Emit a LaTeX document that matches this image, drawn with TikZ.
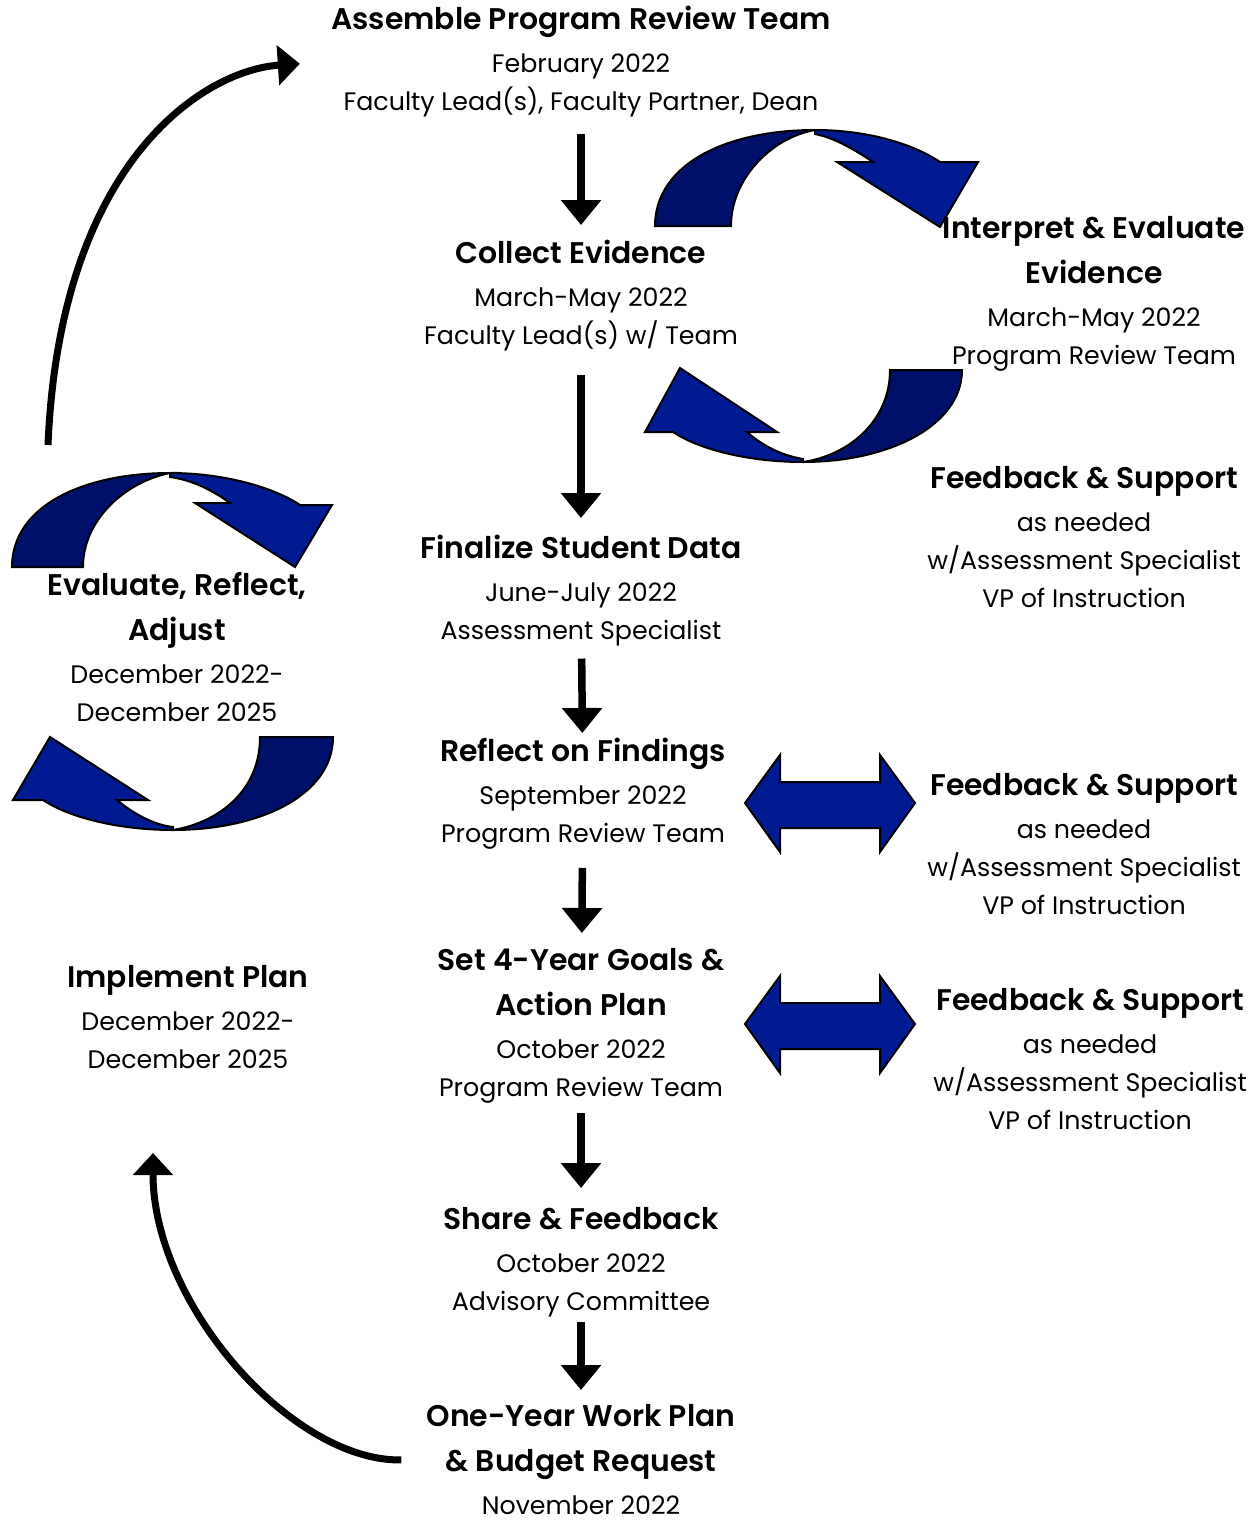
\documentclass[tikz,border=0pt]{standalone}
\usepackage{fontspec}
\setmainfont{Poppins}[BoldFont={Poppins SemiBold}]
\usetikzlibrary{arrows.meta}
\definecolor{navydark}{RGB}{0,15,105}
\definecolor{navylight}{RGB}{0,27,145}
\newcommand{\hd}[1]{{\fontsize{17pt}{21.5pt}\selectfont\bfseries #1}}

\begin{document}
\begin{tikzpicture}[
        x=0.02cm, y=-0.02cm,
        stepnode/.style={align=center, anchor=north, inner sep=0pt, font=\fontsize{14.4pt}{21.5pt}\selectfont},
        arrow/.style={line width=0.15cm, -{Triangle[width=0.78cm, length=0.5cm]}},
        curvearrow/.style={line width=0.14cm, -{Triangle[width=0.78cm, length=0.44cm]}},
        shapeback/.style={draw=black, line width=0.04cm, fill=navydark},
        shapefront/.style={draw=black, line width=0.04cm, fill=navylight},
    ]
        \useasboundingbox (0,0) rectangle (1258,1521);

        % blue circular arrows, right side
        \draw[shapeback] (655,226) .. controls (655,165) and (725,130) .. (815,130)
            .. controls (770,138) and (731,180) .. (731,226) -- cycle;
        \draw[shapefront] (815,130) .. controls (870,130) and (915,145) .. (940,162)
            -- (978,162) -- (940,227) -- (837,162) -- (873,162)
            .. controls (855,150) and (835,138) .. (815,134) -- cycle;
        \draw[shapeback] (962,370) .. controls (962,425) and (890,462) .. (803,462)
            .. controls (850,455) and (890,420) .. (890,370) -- cycle;
        \draw[shapefront] (803,462) .. controls (750,462) and (700,450) .. (673,432)
            -- (645,432) -- (680,368) -- (777,432) -- (747,432)
            .. controls (765,448) and (785,456) .. (803,459) -- cycle;

        % blue circular arrows, left side
        \draw[shapeback] (12,567) .. controls (12,505) and (85,473) .. (170,473)
            .. controls (125,482) and (83,520) .. (83,567) -- cycle;
        \draw[shapefront] (170,473) .. controls (225,473) and (275,488) .. (300,505)
            -- (332,505) -- (295,567) -- (195,503) -- (230,503)
            .. controls (212,490) and (192,480) .. (170,477) -- cycle;
        \draw[shapeback] (333,737) .. controls (333,795) and (260,830) .. (173,830)
            .. controls (220,822) and (260,790) .. (260,737) -- cycle;
        \draw[shapefront] (173,830) .. controls (120,830) and (70,818) .. (43,800)
            -- (13,800) -- (50,737) -- (148,800) -- (117,800)
            .. controls (135,815) and (155,825) .. (173,827) -- cycle;

        % double arrows
        \foreach \dy in {0,221} {
            \draw[shapefront, yshift=-\dy*0.02cm] (745,803) -- (780,755) -- (780,782) -- (880,782) -- (880,755)
                -- (915,803) -- (880,852) -- (880,828) -- (780,828) -- (780,852) -- cycle;
        }

        \node[stepnode] (assemble) at (581,6) {\hd{Assemble Program Review Team}\\[3pt] February 2022\\ Faculty Lead(s), Faculty Partner, Dean};
        \node[stepnode] (collect) at (581,240) {\hd{Collect Evidence}\\[3pt] March-May 2022\\ Faculty Lead(s) w/ Team};
        \node[stepnode] (finalize) at (581,535) {\hd{Finalize Student Data}\\[3pt] June-July 2022\\ Assessment Specialist};
        \node[stepnode] (reflect) at (583,738) {\hd{Reflect on Findings}\\[3pt] September 2022\\ Program Review Team};
        \node[stepnode] (goals) at (581,948) {\hd{Set 4-Year Goals \&}\\[4pt] \hd{Action Plan}\\[3pt] October 2022\\ Program Review Team};
        \node[stepnode] (share) at (581,1207) {\hd{Share \& Feedback}\\[3pt] October 2022\\ Advisory Committee};
        \node[stepnode] (oneyear) at (581,1404) {\hd{One-Year Work Plan}\\[4pt] \hd{\& Budget Request}\\[3pt] November 2022};

        \node[stepnode] (interpret) at (1094,216) {\hd{Interpret \& Evaluate}\\[4pt] \hd{Evidence}\\[3pt] March-May 2022\\ Program Review Team};
        \node[stepnode] (support1) at (1084,466) {\hd{Feedback \& Support}\\[3pt] as needed\\ w/Assessment Specialist\\ VP of Instruction};
        \node[stepnode] (support2) at (1084,773) {\hd{Feedback \& Support}\\[3pt] as needed\\ w/Assessment Specialist\\ VP of Instruction};
        \node[stepnode] (support3) at (1090,988) {\hd{Feedback \& Support}\\[3pt] as needed\\ w/Assessment Specialist\\ VP of Instruction};

        \node[stepnode] (evaluate) at (177,572) {\hd{Evaluate, Reflect,}\\[4pt] \hd{Adjust}\\[3pt] December 2022-\\ December 2025};
        \node[stepnode] (implement) at (188,965) {\hd{Implement Plan}\\[3pt] December 2022-\\ December 2025};

        \coordinate (loopstart) at (48,445);
        \coordinate (planend) at (153,1153);

        \draw[arrow, shorten <=0.34cm, shorten >=0.3cm] (assemble) -- (collect);
        \draw[arrow, shorten <=0.48cm, shorten >=0.34cm] (collect) -- (finalize);
        \draw[arrow, shorten <=0.24cm, shorten >=0.1cm] (finalize) -- (reflect);
        \draw[arrow, shorten <=0.36cm, shorten >=0.3cm] (reflect) -- (goals);
        \draw[arrow, shorten <=0.2cm, shorten >=0.38cm] (goals) -- (share);
        \draw[arrow, shorten <=0.1cm, shorten >=0.28cm] (share) -- (oneyear);

        \draw[curvearrow, shorten >=0.62cm] (loopstart) .. controls (60,160) and (205,70) .. (assemble.west);
        \draw[curvearrow, shorten <=0.5cm] (oneyear.west) .. controls (293,1462) and (153,1305) .. (planend);
    \end{tikzpicture}
\end{document}
